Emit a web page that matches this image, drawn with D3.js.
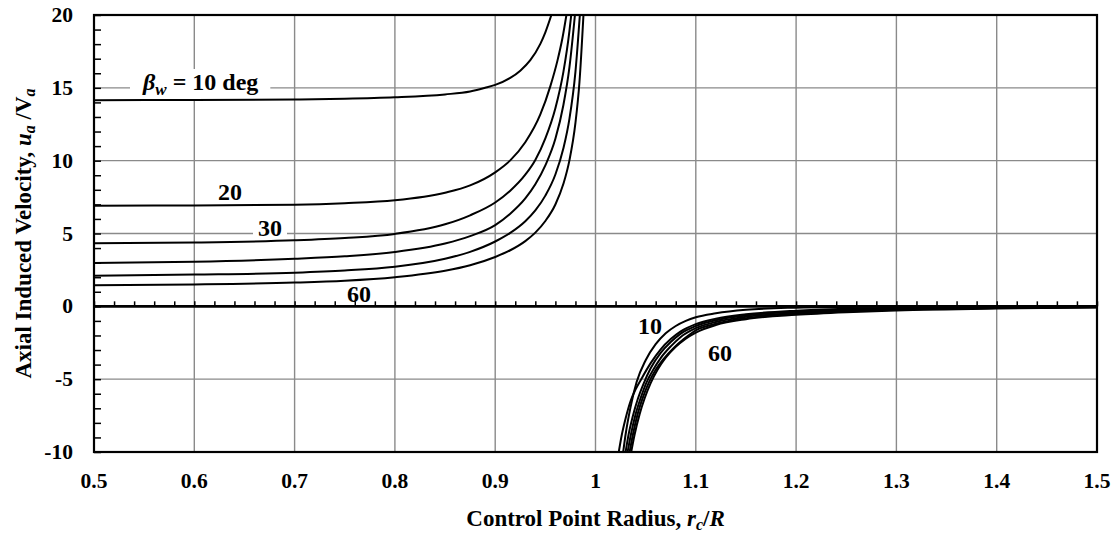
<!DOCTYPE html>
<html>
<head>
<meta charset="utf-8">
<script src="https://cdn.jsdelivr.net/npm/d3@7"></script>
<style>
  body { margin: 0; background: #fff; }
  text { font-family: "Liberation Serif", "Times New Roman", serif; font-weight: bold; fill: #000; }
</style>
</head>
<body>
<svg id="root"></svg>
<script>
// wake pitch angles, deg
const betas = [10, 20, 30, 40, 50, 60]

// inside the vortex cylinder (r < R), [r/R, ua/Va]
const inner10 = [[0.5, 14.15], [0.6, 14.17], [0.7, 14.2], [0.75, 14.25], [0.8, 14.35], [0.85, 14.55], [0.875, 14.75], [0.89, 15.0], [0.9, 15.2], [0.915, 15.68], [0.925, 16.18], [0.935, 16.9], [0.945, 18.02], [0.95, 18.81], [0.956, 20.0]]
const inner20 = [[0.5, 6.9], [0.6, 6.93], [0.7, 6.98], [0.75, 7.08], [0.8, 7.28], [0.85, 7.8], [0.875, 8.3], [0.9, 9.2], [0.915, 10.02], [0.93, 11.26], [0.945, 13.17], [0.955, 15.12], [0.962, 16.85], [0.967, 18.4], [0.971, 20.0]]
const inner30 = [[0.5, 4.33], [0.6, 4.38], [0.7, 4.53], [0.75, 4.69], [0.8, 4.97], [0.85, 5.63], [0.875, 6.25], [0.9, 7.13], [0.915, 7.94], [0.93, 9.04], [0.94, 10.05], [0.95, 11.53], [0.96, 13.6], [0.968, 16.1], [0.974, 18.9], [0.9758, 20.0]]
const inner40 = [[0.5, 2.98], [0.6, 3.06], [0.7, 3.27], [0.75, 3.44], [0.8, 3.73], [0.85, 4.31], [0.875, 4.82], [0.9, 5.58], [0.915, 6.36], [0.93, 7.41], [0.94, 8.38], [0.95, 9.68], [0.96, 11.5], [0.968, 13.82], [0.974, 16.4], [0.9795, 20.0]]
const inner50 = [[0.5, 2.1], [0.6, 2.18], [0.7, 2.31], [0.75, 2.46], [0.8, 2.72], [0.85, 3.27], [0.875, 3.74], [0.9, 4.45], [0.915, 5.04], [0.93, 5.84], [0.94, 6.58], [0.95, 7.6], [0.96, 9.05], [0.968, 10.85], [0.974, 12.87], [0.98, 16.1], [0.9844, 20.0]]
const inner60 = [[0.5, 1.44], [0.6, 1.5], [0.7, 1.63], [0.75, 1.76], [0.8, 2.0], [0.85, 2.44], [0.875, 2.82], [0.9, 3.39], [0.915, 3.85], [0.93, 4.48], [0.94, 5.06], [0.95, 5.86], [0.96, 6.99], [0.968, 8.41], [0.974, 10.02], [0.98, 12.59], [0.984, 15.38], [0.988, 20.0]]

// outside (r > R)
const outer10 = [[1.0276, -10], [1.03, -8.8], [1.035, -6.9], [1.041, -5.2], [1.05, -3.7], [1.06, -2.6], [1.07, -1.85], [1.08, -1.35], [1.09, -1.0], [1.1, -0.75], [1.12, -0.48], [1.15, -0.24], [1.2, -0.09], [1.25, -0.04], [1.3, -0.02], [1.4, -0.01], [1.5, 0]]
const outer20 = [[1.0232, -10], [1.026, -8.9], [1.03, -7.7], [1.035, -6.5], [1.04, -5.7], [1.046, -4.95], [1.055, -3.9], [1.065, -2.95], [1.075, -2.25], [1.085, -1.72], [1.1, -1.22], [1.12, -0.85], [1.15, -0.55], [1.2, -0.3], [1.25, -0.17], [1.3, -0.1], [1.4, -0.04], [1.5, -0.02]]
const outer30 = [[1.03, -10], [1.033, -8.8], [1.037, -7.6], [1.042, -6.4], [1.048, -5.3], [1.055, -4.25], [1.065, -3.2], [1.075, -2.45], [1.085, -1.87], [1.1, -1.35], [1.12, -0.95], [1.15, -0.63], [1.2, -0.38], [1.25, -0.24], [1.3, -0.15], [1.4, -0.07], [1.5, -0.03]]
const outer40 = [[1.032, -10], [1.035, -8.9], [1.04, -7.4], [1.045, -6.3], [1.051, -5.2], [1.058, -4.3], [1.065, -3.55], [1.075, -2.75], [1.085, -2.1], [1.1, -1.5], [1.12, -1.07], [1.15, -0.72], [1.2, -0.46], [1.25, -0.3], [1.3, -0.2], [1.4, -0.1], [1.5, -0.05]]
const outer50 = [[1.034, -10], [1.037, -8.9], [1.042, -7.4], [1.047, -6.3], [1.053, -5.25], [1.06, -4.35], [1.068, -3.6], [1.078, -2.85], [1.088, -2.25], [1.1, -1.65], [1.12, -1.2], [1.15, -0.82], [1.2, -0.53], [1.25, -0.36], [1.3, -0.24], [1.4, -0.12], [1.5, -0.06]]
const outer60 = [[1.0356, -10], [1.039, -8.8], [1.044, -7.4], [1.049, -6.31], [1.055, -5.27], [1.062, -4.34], [1.07, -3.53], [1.08, -2.78], [1.09, -2.22], [1.1, -1.8], [1.12, -1.28], [1.15, -0.88], [1.2, -0.58], [1.25, -0.4], [1.3, -0.28], [1.4, -0.15], [1.5, -0.08]]

const xTicks = [0.5, 0.6, 0.7, 0.8, 0.9, 1.0, 1.1, 1.2, 1.3, 1.4, 1.5]
const yTicks = [-10, -5, 0, 5, 10, 15, 20]

const series = [inner10, inner20, inner30, inner40, inner50, inner60,
                outer10, outer20, outer30, outer40, outer50, outer60]

const margin = { top: 15, right: 23, bottom: 84, left: 94 },
  width = 1120 - margin.left - margin.right,
  height = 536 - margin.top - margin.bottom;

const svg = d3.select("#root").attr("width", 1120).attr("height", 536)
  .append("g")
  .attr("transform", "translate(" + margin.left + "," + margin.top + ")");

const x = d3.scaleLinear([0.5, 1.5], [0, width])
const y = d3.scaleLinear([-10, 20], [height, 0])

svg.append("clipPath")
  .attr("id", "chart-area")
  .append("rect")
  .attr("width", width)
  .attr("height", height)

// grid
svg.append("g").selectAll("line")
  .data(xTicks.slice(1, -1))
  .join("line")
  .attr("x1", d => x(d)).attr("x2", d => x(d))
  .attr("y1", 0).attr("y2", height)
  .attr("stroke", "#8a8a8a").attr("stroke-width", 1.4)
svg.append("g").selectAll("line")
  .data(yTicks.filter(d => d != 0 && d != 20 && d != -10))
  .join("line")
  .attr("x1", 0).attr("x2", width)
  .attr("y1", d => y(d)).attr("y2", d => y(d))
  .attr("stroke", "#8a8a8a").attr("stroke-width", 1.4)

// curve labels (white box hides the grid behind)
const labels = svg.append("g")
function curveLabel(px, py, parts, box) {
  const t = labels.append("text").attr("x", px).attr("y", py).style("font-size", "24px")
  parts.forEach(p => {
    const s = t.append("tspan").text(p.s)
    if (p.it) s.style("font-style", "italic")
    if (p.sub) s.attr("dy", 5).style("font-size", "17px")
    if (p.up) s.attr("dy", -5)
  })
  if (box) {
    const b = t.node().getBBox()
    labels.insert("rect", "text")
      .attr("x", b.x - box).attr("y", b.y)
      .attr("width", b.width + 2 * box).attr("height", b.height)
      .attr("fill", "#fff")
  }
}
curveLabel(49, 75, [{ s: "β", it: true }, { s: "w", it: true, sub: true }, { s: " = 10 deg", up: true }], 12)
curveLabel(124, 185, [{ s: "20" }], 0)
curveLabel(164, 221, [{ s: "30" }], 5)
curveLabel(253, 287, [{ s: "60" }], 0)
curveLabel(544, 319, [{ s: "10" }], 0)
curveLabel(614, 346, [{ s: "60" }], 0)

// curves
const line = d3.line()
  .x(d => x(d[0]))
  .y(d => y(d[1]))
  .curve(d3.curveMonotoneX)
svg.append("g").selectAll("path")
  .data(series)
  .join("path")
  .attr("clip-path", "url(#chart-area)")
  .attr("fill", "none")
  .attr("stroke", "#000")
  .attr("stroke-width", 2)
  .attr("d", line)

// zero line with minor ticks
const xMinor = d3.range(0, 51).map(i => 0.5 + i * 0.02)
svg.append("g")
  .attr("transform", `translate(0,${y(0)})`)
  .call(d3.axisTop(x).tickValues(xMinor).tickSize(5).tickFormat(""))
  .call(g => g.select(".domain").remove())
  .call(g => g.selectAll("line").attr("stroke-width", 1.5))
svg.append("line")
  .attr("x1", 0).attr("x2", width)
  .attr("y1", y(0)).attr("y2", y(0))
  .attr("stroke", "#000").attr("stroke-width", 2.6)

// left minor ticks
svg.append("g")
  .call(d3.axisRight(y).tickValues(d3.range(-10, 21)).tickSize(7).tickFormat(""))
  .call(g => g.select(".domain").remove())
  .call(g => g.selectAll("line").attr("stroke-width", 1.5))

// frame
svg.append("rect")
  .attr("width", width).attr("height", height)
  .attr("fill", "none").attr("stroke", "#000").attr("stroke-width", 2.2)

// tick labels
svg.append("g").selectAll("text")
  .data(xTicks)
  .join("text")
  .attr("x", d => x(d))
  .attr("y", height + 36)
  .attr("text-anchor", "middle")
  .style("font-size", "21.5px")
  .text(d => String(d))
svg.append("g").selectAll("text")
  .data(yTicks)
  .join("text")
  .attr("x", -21)
  .attr("y", d => y(d) + 7)
  .attr("text-anchor", "end")
  .style("font-size", "21.5px")
  .text(d => String(d))

// axis titles
const xt = svg.append("text")
  .attr("x", width / 2)
  .attr("y", height + 74)
  .attr("text-anchor", "middle")
  .style("font-size", "23px")
xt.append("tspan").text("Control Point Radius, ")
xt.append("tspan").text("r").style("font-style", "italic")
xt.append("tspan").text("c").style("font-style", "italic").style("font-size", "16px").attr("dy", 4)
xt.append("tspan").text("/").attr("dy", -4)
xt.append("tspan").text("R").style("font-style", "italic")

const yt = svg.append("text")
  .attr("transform", `translate(-63,${height / 2}) rotate(-90)`)
  .attr("text-anchor", "middle")
  .style("font-size", "23px")
yt.append("tspan").text("Axial Induced Velocity, ")
yt.append("tspan").text("u").style("font-style", "italic")
yt.append("tspan").text("a").style("font-style", "italic").style("font-size", "16px").attr("dy", 4)
yt.append("tspan").text(" /V").attr("dy", -4)
yt.append("tspan").text("a").style("font-style", "italic").style("font-size", "16px").attr("dy", 4)
</script>
</body>
</html>
